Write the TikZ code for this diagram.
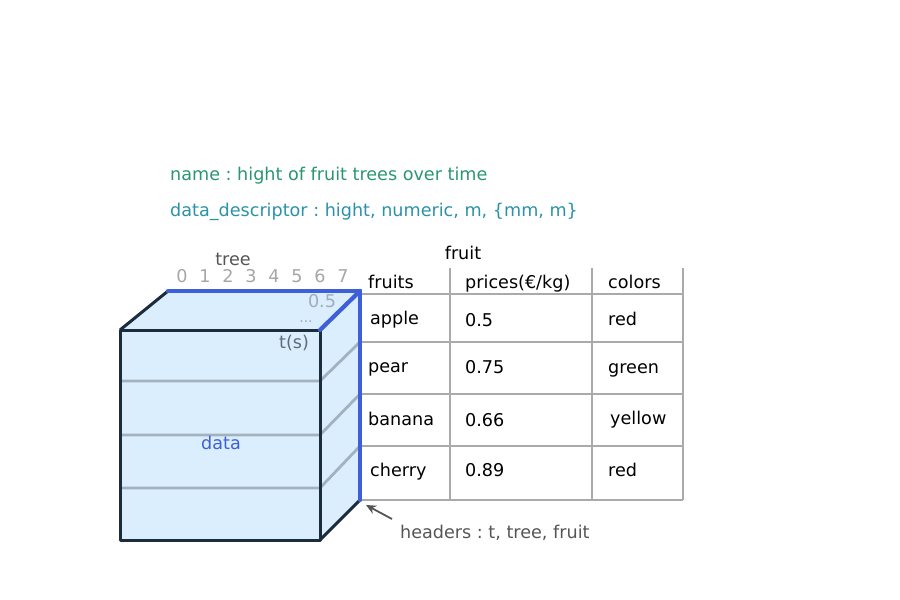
\documentclass[tikz,border=0pt]{standalone}
\usepackage{fontspec}
\setmainfont{DejaVu Sans}
\usetikzlibrary{arrows.meta}
\definecolor{cubefill}{HTML}{DBEEFE}
\definecolor{cubeedge}{HTML}{1B2C3C}
\definecolor{hdrblue}{HTML}{3F5FD8}
\definecolor{gridgray}{HTML}{AAAAAA}
\definecolor{slicegray}{HTML}{A3B2BF}
\definecolor{namegreen}{HTML}{2A9670}
\definecolor{descteal}{HTML}{2A92A6}
\definecolor{labelgray}{HTML}{555555}
\definecolor{tickgray}{HTML}{A6A6A6}
\definecolor{valgray}{HTML}{A0ACBA}
\definecolor{axisslate}{HTML}{5E6C7A}
\begin{document}
\frenchspacing
\begin{tikzpicture}[x=1pt,y=-1pt,
  txt/.style={font=\fontsize{17.6}{20}\selectfont, inner sep=0pt,
    text height=1.1em, text depth=0em},
  cell/.style={txt, anchor=west, text=black},
  edge/.style={draw=cubeedge, line width=3pt, line join=round},
  hdr/.style={draw=hdrblue, line width=4.2pt, line cap=round},
  grid/.style={draw=gridgray, line width=2.8pt},
  slice/.style={draw=slicegray, line width=2.8pt},
]
\useasboundingbox (0,0) rectangle (900,600);

% metadata
\node[txt, anchor=west, text=namegreen] (name) at (170,175) {name : hight of fruit trees over time};
\node[txt, anchor=west, text=descteal] (desc) at (170,211) {data\_descriptor : hight, numeric, m, \{mm, m\}};

% cube corners
\coordinate (ftl) at (120,330);
\coordinate (ftr) at (320,330);
\coordinate (fbl) at (120,540);
\coordinate (fbr) at (320,540);
\coordinate (btl) at (168,291);
\coordinate (btr) at (360,291);
\coordinate (bbr) at (360,500);

% faces
\fill[cubefill] (ftl) -- (btl) -- (btr) -- (bbr) -- (fbr) -- (fbl) -- cycle;

% slices through the cube
\foreach \i/\fy/\by in {1/381/342, 2/435/394, 3/488/446} {
  \coordinate (sf\i) at (120,\fy);
  \coordinate (sm\i) at (320,\fy);
  \coordinate (sb\i) at (360,\by);
  \draw[slice] (sf\i) -- (sm\i) -- (sb\i);
}

% cube outline
\draw[edge] (ftl) rectangle (fbr);
\draw[edge] (ftl) -- (btl);
\draw[edge] (fbr) -- (bbr);

% table grid
\foreach \y [count=\k] in {294,342,394,446,500} {
  \coordinate (rl\k) at (360,\y);
  \coordinate (rr\k) at (683,\y);
  \draw[grid] (rl\k) -- (rr\k);
}
\foreach \x [count=\k] in {450,592,683} {
  \coordinate (vt\k) at (\x,268);
  \coordinate (vb\k) at (\x,500);
  \draw[grid] (vt\k) -- (vb\k);
}

% header edges
\draw[hdr] (btl) -- (btr);
\draw[hdr] (ftr) -- (btr);
\draw[hdr] (btr) -- (bbr);

% axis labels
\node[txt, text=labelgray] (tree) at (233,260) {tree};
\foreach \n in {0,...,7} {
  \node[txt, text=tickgray] (tk\n) at (182+23*\n,277) {\n};
}
\node[txt, text=valgray] (tv) at (322,302) {0.5};
\node[txt, text=valgray, font=\fontsize{14}{16}\selectfont] (tdots) at (306,317) {...};
\node[txt, text=axisslate] (ts) at (294,343) {t(s)};
\node[txt, text=hdrblue] (data) at (221,444) {data};
\node[txt, text=black] (fruit) at (463,254) {fruit};

% table contents
\node[cell] (h1) at (368,283) {fruits};
\node[cell] (h2) at (465,283) {prices(€/kg)};
\node[cell] (h3) at (608,283) {colors};
\node[cell] (a1) at (370,319) {apple};
\node[cell] (a2) at (465,321) {0.5};
\node[cell] (a3) at (608,320) {red};
\node[cell] (b1) at (368,367) {pear};
\node[cell] (b2) at (465,368) {0.75};
\node[cell] (b3) at (608,368) {green};
\node[cell] (c1) at (368,420) {banana};
\node[cell] (c2) at (465,421) {0.66};
\node[cell] (c3) at (610,419) {yellow};
\node[cell] (d1) at (370,471) {cherry};
\node[cell] (d2) at (465,471) {0.89};
\node[cell] (d3) at (608,471) {red};

% annotation
\node[txt, anchor=west, text=labelgray] (headers) at (400,533) {headers : t, tree, fruit};
\coordinate (tail) at (392,519);
\coordinate (tip) at (366,505);
\draw[labelgray, line width=1.8pt, -{Stealth[length=10pt,width=9pt]}] (tail) -- (tip);
\end{tikzpicture}
\end{document}
